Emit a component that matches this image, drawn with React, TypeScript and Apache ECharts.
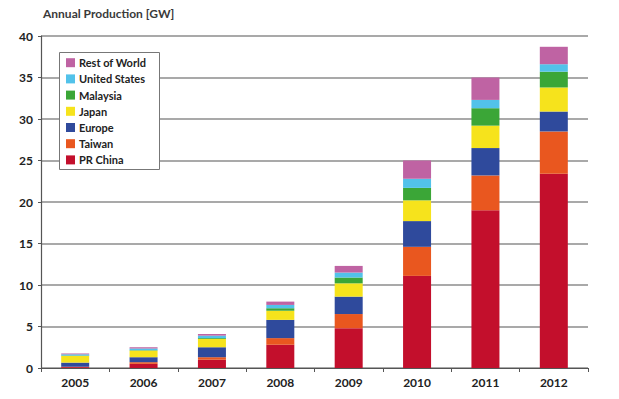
import React, { useEffect, useRef } from "react";
import * as echarts from "echarts";

const years = ["2005", "2006", "2007", "2008", "2009", "2010", "2011", "2012"];
const yTicks = [0, 5, 10, 15, 20, 25, 30, 35, 40];
const prChina = [0.1, 0.5, 1.0, 2.8, 4.8, 11.1, 19.0, 23.4];
const taiwan = [0.05, 0.2, 0.3, 0.8, 1.7, 3.5, 4.2, 5.1];
const europe = [0.5, 0.6, 1.2, 2.2, 2.1, 3.1, 3.3, 2.4];
const japan = [0.8, 0.8, 1.0, 1.1, 1.6, 2.5, 2.7, 2.9];
const malaysia = [0.05, 0.05, 0.1, 0.3, 0.7, 1.5, 2.1, 1.9];
const unitedStates = [0.15, 0.2, 0.3, 0.4, 0.6, 1.1, 1.0, 0.9];
const restOfWorld = [0.1, 0.15, 0.2, 0.4, 0.8, 2.2, 2.7, 2.1];

const seriesDefs = [
  { name: "PR China", data: prChina, color: "#c30f2c" },
  { name: "Taiwan", data: taiwan, color: "#e9571f" },
  { name: "Europe", data: europe, color: "#2f4a9c" },
  { name: "Japan", data: japan, color: "#f6e31c" },
  { name: "Malaysia", data: malaysia, color: "#3ba637" },
  { name: "United States", data: unitedStates, color: "#52c2ea" },
  { name: "Rest of World", data: restOfWorld, color: "#bf63a3" },
];

const FONT = "Lato, 'Open Sans', sans-serif";

export default function App() {
  const ref = useRef<HTMLDivElement>(null);
  useEffect(() => {
    if (!ref.current) return;
    const chart = echarts.init(ref.current, null, { renderer: "svg" });
    chart.setOption({
      animation: false,
      backgroundColor: "#ffffff",
      title: {
        text: "Annual Production [GW]",
        left: 43,
        top: 7,
        padding: 0,
        textStyle: { fontFamily: FONT, fontSize: 12, fontWeight: "bold", color: "#3a3a3a" },
      },
      grid: { left: 41, right: 31, top: 36, bottom: 31, containLabel: false },
      legend: {
        orient: "vertical",
        left: 66,
        top: 56.7,
        padding: 0,
        itemWidth: 9,
        itemHeight: 9,
        itemGap: 4.2,
        icon: "rect",
        z: 5,
        data: [...seriesDefs].reverse().map((s) => s.name),
        textStyle: {
          fontFamily: FONT,
          fontSize: 11,
          lineHeight: 12,
          fontWeight: "bold",
          color: "#222",
          padding: [0, 0, 0, -1],
        },
      },
      graphic: [
        {
          type: "rect",
          z: 3,
          shape: { x: 59.5, y: 52.5, width: 100, height: 117 },
          style: { fill: "#ffffff", stroke: "#777777", lineWidth: 1 },
        },
      ],
      xAxis: {
        type: "category",
        data: years,
        axisLine: { show: true, lineStyle: { color: "#555", width: 1.2 } },
        axisTick: { show: true, alignWithLabel: false, length: 4, lineStyle: { color: "#555" } },
        axisLabel: { margin: 8, fontFamily: FONT, fontSize: 12, fontWeight: "bold", color: "#222" },
      },
      yAxis: {
        type: "value",
        min: 0,
        max: 40,
        interval: 5,
        axisLine: { show: true, lineStyle: { color: "#555", width: 1.2 } },
        axisTick: { show: true, length: 3, lineStyle: { color: "#555" } },
        axisLabel: {
          margin: 8,
          fontFamily: FONT,
          fontSize: 12,
          fontWeight: "bold",
          color: "#222",
          formatter: (v: number) => (yTicks.includes(v) ? String(v) : ""),
        },
        splitLine: { show: true, lineStyle: { color: "#8c8c8c", width: 1.5 } },
      },
      series: seriesDefs.map((s) => ({
        name: s.name,
        type: "bar",
        stack: "total",
        barWidth: 28,
        data: s.data,
        itemStyle: { color: s.color },
      })),
    });
    return () => chart.dispose();
  }, []);
  return (
    <div
      ref={ref}
      style={{ position: "fixed", left: 0, top: 0, width: 619, height: 399 }}
    />
  );
}
